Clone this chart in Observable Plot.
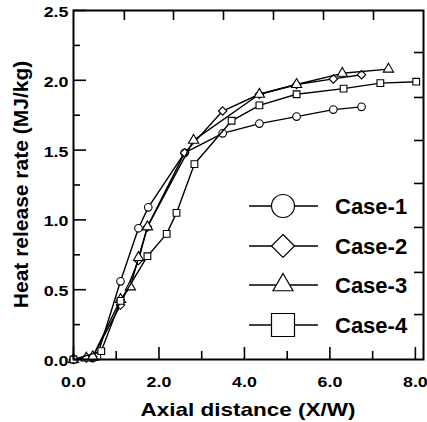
<!DOCTYPE html>
<html>
<head>
<meta charset="utf-8">
<script src="https://cdn.jsdelivr.net/npm/d3@7"></script>
<script src="https://cdn.jsdelivr.net/npm/@observablehq/plot@0.6"></script>
<style>
  html, body { margin: 0; padding: 0; background: #fff; }
  #chart { width: 427px; height: 422px; }
</style>
</head>
<body>
<div id="chart"></div>
<script>
// ---- data ----
const seriesNames = ["Case-1", "Case-2", "Case-3", "Case-4"];
const seriesSymbols = ["circle", "diamond2", "triangle", "square"];

const case1X = [0, 0.45, 0.55, 1.1, 1.52, 1.75, 2.6, 3.49, 4.35, 5.22, 6.08, 6.74];
const case1Y = [0, 0.01, 0.02, 0.56, 0.94, 1.09, 1.48, 1.62, 1.69, 1.74, 1.79, 1.81];

const case2X = [0, 0.3, 0.45, 1.1, 1.52, 1.73, 2.6, 3.49, 4.35, 5.22, 6.08, 6.74];
const case2Y = [0, 0.01, 0.02, 0.39, 0.71, 0.95, 1.48, 1.78, 1.90, 1.97, 2.01, 2.04];

const case3X = [0, 0.3, 0.45, 1.1, 1.33, 1.52, 1.73, 2.81, 4.35, 5.22, 6.29, 7.37];
const case3Y = [0, 0.01, 0.02, 0.43, 0.52, 0.73, 0.95, 1.57, 1.90, 1.97, 2.05, 2.08];

const case4X = [0, 0.65, 1.1, 1.73, 2.18, 2.41, 2.83, 3.70, 4.35, 5.22, 6.32, 7.18, 8.02];
const case4Y = [0, 0.06, 0.42, 0.74, 0.90, 1.05, 1.40, 1.71, 1.82, 1.90, 1.94, 1.98, 1.99];

const xMajorTicks = [0, 2, 4, 6, 8];
const xMinorTicks = [1, 3, 5, 7];
const yMajorTicks = [0, 0.5, 1.0, 1.5, 2.0, 2.5];
const yMinorTicks = [0.25, 0.75, 1.25, 1.75, 2.25];
const topTicks = [1.19, 2.34, 3.51, 4.68, 5.85, 7.02];
const rightTicks = [0.322, 0.624, 0.946, 1.261, 1.569, 1.877, 2.199];

const xDomain = [0, 8.19];
const yDomain = [0, 2.5];
const xTitle = "Axial distance (X/W)";
const yTitle = "Heat release rate (MJ/kg)";

// ---- build table ----
const allX = [case1X, case2X, case3X, case4X];
const allY = [case1Y, case2Y, case3Y, case4Y];
const data = [];
seriesNames.forEach((name, s) => {
  allX[s].forEach((x, i) => data.push({series: name, x, y: allY[s][i]}));
});

const FONT = "'Liberation Sans', Arial, Helvetica, sans-serif";

const marks = [];
seriesNames.forEach((name) => {
  const d = data.filter(p => p.series === name);
  marks.push(Plot.line(d, {x: "x", y: "y", stroke: "black", strokeWidth: 1.4}));
  marks.push(Plot.dot(d, {x: "x", y: "y", symbol: "series", r: 3.8, stroke: "black", strokeWidth: 1.1, fill: "white"}));
});

const chart = Plot.plot({
  width: 427,
  height: 422,
  marginLeft: 73,
  marginRight: 4,
  marginTop: 10,
  marginBottom: 63,
  style: {fontFamily: FONT, fontSize: "15.5px", fontWeight: "bold", color: "black", background: "white"},
  x: {domain: xDomain, axis: null},
  y: {domain: yDomain, axis: null},
  symbol: {domain: seriesNames, range: seriesSymbols},
  marks: [
    ...marks,
    // ticks (inward)
    Plot.ruleX(xMajorTicks, {x: d => d, y1: 0, y2: 0, insetTop: -12, stroke: "black", strokeWidth: 1.6}),
    Plot.ruleX(xMinorTicks, {x: d => d, y1: 0, y2: 0, insetTop: -8, stroke: "black", strokeWidth: 1.6}),
    Plot.ruleX(topTicks, {x: d => d, y1: 2.5, y2: 2.5, insetBottom: -10, stroke: "black", strokeWidth: 1.6}),
    Plot.ruleY(yMajorTicks, {y: d => d, x1: 0, x2: 0, insetRight: -13, stroke: "black", strokeWidth: 1.6}),
    Plot.ruleY(yMinorTicks, {y: d => d, x1: 0, x2: 0, insetRight: -7, stroke: "black", strokeWidth: 1.6}),
    Plot.ruleY(rightTicks, {y: d => d, x1: xDomain[1], x2: xDomain[1], insetLeft: -9, stroke: "black", strokeWidth: 1.6}),
    Plot.frame({stroke: "black", strokeWidth: 2}),
    Plot.axisX(xMajorTicks, {tickSize: 0, tickPadding: 16, tickFormat: d => d.toFixed(1), fill: "black", label: null}),
    Plot.axisY(yMajorTicks, {tickSize: 0, tickPadding: 5, dy: 1.5, tickFormat: d => d.toFixed(1), fill: "black", label: null})
  ]
});

document.getElementById("chart").append(chart);
const svg = d3.select(chart);

// stretch tick labels horizontally (reference glyphs are wide)
svg.selectAll('g[aria-label="x-axis tick label"] text, g[aria-label="y-axis tick label"] text').each(function() {
  const len = this.getComputedTextLength();
  this.setAttribute("textLength", (len * 1.15).toFixed(1));
  this.setAttribute("lengthAdjust", "spacingAndGlyphs");
});

// axis titles
const plotLeft = 73, plotRight = 423, plotTop = 10, plotBottom = 359;
svg.append("text")
  .attr("x", (plotLeft + plotRight) / 2)
  .attr("y", 416)
  .attr("text-anchor", "middle")
  .attr("font-family", FONT)
  .attr("font-weight", "bold")
  .attr("font-size", 19)
  .attr("fill", "black")
  .attr("textLength", 215)
  .attr("lengthAdjust", "spacingAndGlyphs")
  .text(xTitle);

svg.append("text")
  .attr("transform", `translate(28,${(plotTop + plotBottom) / 2}) rotate(-90)`)
  .attr("text-anchor", "middle")
  .attr("font-family", FONT)
  .attr("font-weight", "bold")
  .attr("font-size", 21)
  .attr("fill", "black")
  .text(yTitle);

// legend
const legendSymbols = [d3.symbolCircle, d3.symbolDiamond2, d3.symbolTriangle, d3.symbolSquare];
const legendSizes = [415, 337, 173, 529];
const legendRowY = [206, 246, 285, 325];
const lg = svg.append("g").attr("class", "legend").attr("text-anchor", "start");
seriesNames.forEach((name, i) => {
  const y = legendRowY[i];
  lg.append("line").attr("x1", 249).attr("x2", 318).attr("y1", y).attr("y2", y)
    .attr("stroke", "black").attr("stroke-width", 1.4);
  lg.append("path").attr("d", d3.symbol(legendSymbols[i], legendSizes[i])())
    .attr("transform", `translate(283,${y})`)
    .attr("fill", "white").attr("stroke", "black").attr("stroke-width", 1.2);
  lg.append("text").attr("x", 335).attr("y", y).attr("dy", "0.36em")
    .attr("text-anchor", "start")
    .attr("font-family", FONT).attr("font-weight", "bold").attr("font-size", 22)
    .attr("fill", "black").text(name);
});
</script>
</body>
</html>
